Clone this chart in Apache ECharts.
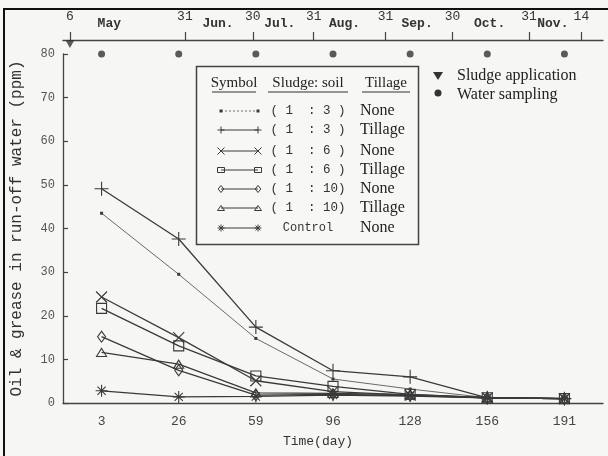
<!DOCTYPE html>
<html><head><meta charset="utf-8">
<script src="https://cdn.jsdelivr.net/npm/echarts@6/dist/echarts.min.js"></script>
<style>html,body{margin:0;padding:0;background:#f6f6f4}#c{width:608px;height:456px}</style>
</head><body><div id="c"></div>
<script>
// ---- data ----
const days = ['3','26','59','96','128','156','191'];
const none13  = [43.5, 29.5, 14.8, 5.5, 3.2, 1.2, 1.0];
const till13  = [49.1, 37.6, 17.4, 7.4, 6.0, 1.2, 1.0];
const none16  = [24.3, 15.0, 5.1, 2.6, 1.8, 1.2, 1.0];
const till16  = [21.7, 13.1, 6.2, 3.8, 2.0, 1.2, 1.0];
const none110 = [15.2, 7.5, 1.8, 2.0, 1.7, 1.2, 1.0];
const till110 = [11.6, 8.9, 2.3, 2.2, 1.9, 1.2, 1.0];
const control = [2.8, 1.4, 1.5, 1.8, 1.6, 1.2, 1.0];
const samplingMarks = [80, 80, 80, 80, 80, 80, 80];
const yMin = 0, yMax = 80, yStep = 10;
const dateTickLabels = ['6','31','30','31','31','30','31','14'];
const monthLabels = ['May','Jun.','Jul.','Aug.','Sep.','Oct.','Nov.'];
const ratioLabels = ['( 1  : 3 )','( 1  : 3 )','( 1  : 6 )','( 1  : 6 )','( 1  : 10)','( 1  : 10)','Control'];
const tillageLabels = ['None','Tillage','None','Tillage','None','Tillage','None'];
const headerLabels = ['Symbol','Sludge: soil','Tillage'];
const eventLabels = ['Sludge application','Water sampling'];
const yTitle = 'Oil & grease in run-off water (ppm)';
const xTitle = 'Time(day)';
// top calendar axis positions (in sampling-interval units of the bottom axis)
const datePos = [0.09, 1.58, 2.46, 3.25, 4.18, 5.05, 6.04, 6.72];
const monthPos = [0.6, 2.01, 2.81, 3.65, 4.59, 5.53, 6.35];
const sludgeApplicationPos = [[0.09, 0.5]];

// ---- styling ----
const INK = '#3a3a3a';
const MONO = 'Liberation Mono';
const SYM = {
  dot: 'rect',
  plus: 'path://M5,0L5,10M0,5L10,5',
  cross: 'path://M0,0L10,10M10,0L0,10',
  rect: 'rect',
  diamond: 'diamond',
  triangle: 'triangle',
  star: 'path://M5,0L5,10M0,5L10,5M1.6,1.6L8.4,8.4M8.4,1.6L1.6,8.4'
};
const seriesDefs = [
  {data: none13, kind: 'dot', size: 3, fill: INK, lw: 1, lc: '#6a6a6a'},
  {data: till13, kind: 'plus', size: 14, fill: 'none', lw: 1.3, lc: INK},
  {data: none16, kind: 'cross', size: 11, fill: 'none', lw: 1.3, lc: INK},
  {data: till16, kind: 'rect', size: 10, fill: 'none', lw: 1.3, lc: INK},
  {data: none110, kind: 'diamond', size: [8, 11], fill: 'none', lw: 1.3, lc: INK},
  {data: till110, kind: 'triangle', size: [10, 8], fill: 'none', lw: 1.3, lc: INK},
  {data: control, kind: 'star', size: 12, fill: 'none', lw: 1.3, lc: INK}
];

const lineSeries = seriesDefs.map((d, i) => ({
  name: ratioLabels[i] + ' ' + tillageLabels[i],
  type: 'line',
  xAxisIndex: 0, yAxisIndex: 0,
  data: d.data,
  symbol: SYM[d.kind],
  symbolSize: d.size,
  showAllSymbol: true,
  itemStyle: {color: d.fill, borderColor: INK, borderWidth: d.kind === 'dot' ? 0 : 1.1},
  lineStyle: {color: d.lc, width: d.lw},
  emphasis: {disabled: true},
  z: 3
}));

function nearestLabel(v, pos, labels) {
  let bi = 0, bd = Infinity;
  pos.forEach((p, i) => { const dd = Math.abs(p - v); if (dd < bd) { bd = dd; bi = i; } });
  return labels[bi];
}

// ---- legend graphics ----
function marker(kind, cx, cy, s) {
  const h = s / 2;
  const st = {stroke: INK, lineWidth: 1, fill: 'none'};
  const L = (x1, y1, x2, y2) => ({type: 'line', shape: {x1, y1, x2, y2}, style: st});
  switch (kind) {
    case 'dot': return [{type: 'rect', shape: {x: cx - 1.5, y: cy - 1.5, width: 3, height: 3}, style: {fill: INK}}];
    case 'plus': return [L(cx - h, cy, cx + h, cy), L(cx, cy - h, cx, cy + h)];
    case 'cross': return [L(cx - h, cy - h, cx + h, cy + h), L(cx + h, cy - h, cx - h, cy + h)];
    case 'rect': return [{type: 'rect', shape: {x: cx - h, y: cy - h + 1, width: s, height: s - 2}, style: st}];
    case 'diamond': return [{type: 'polygon', shape: {points: [[cx, cy - h], [cx + h * 0.8, cy], [cx, cy + h], [cx - h * 0.8, cy]]}, style: st}];
    case 'triangle': return [{type: 'polygon', shape: {points: [[cx, cy - h + 1], [cx + h, cy + h - 1], [cx - h, cy + h - 1]]}, style: st}];
    case 'star': {
      const k = h * 0.7;
      return [L(cx - h, cy, cx + h, cy), L(cx, cy - h, cx, cy + h), L(cx - k, cy - k, cx + k, cy + k), L(cx + k, cy - k, cx - k, cy + k)];
    }
  }
  return [];
}

const graphics = [];
// frame
graphics.push({type: 'line', shape: {x1: 3, y1: 9, x2: 608, y2: 9}, style: {stroke: '#111', lineWidth: 2}, z: 10});
graphics.push({type: 'line', shape: {x1: 4, y1: 9, x2: 4, y2: 456}, style: {stroke: '#111', lineWidth: 2}, z: 10});
// legend box
graphics.push({type: 'rect', shape: {x: 196.5, y: 66.5, width: 222, height: 178}, style: {fill: '#f7f7f5', stroke: '#444', lineWidth: 1.5}, z: 5});
const headerX = [234, 308, 386];
headerLabels.forEach((t, i) => {
  graphics.push({type: 'text', x: headerX[i], y: 83, style: {text: t, font: '15px "Liberation Serif"', fill: '#222', align: 'center', verticalAlign: 'middle'}, z: 6});
});
[[212, 256], [268, 348], [362, 410]].forEach(([a, b]) => {
  graphics.push({type: 'line', shape: {x1: a, y1: 92, x2: b, y2: 92}, style: {stroke: '#333', lineWidth: 1}, z: 6});
});
const rowY = [111, 130, 151, 170, 189, 208, 228];
seriesDefs.forEach((d, i) => {
  const y = rowY[i];
  graphics.push({type: 'line', shape: {x1: 221, y1: y, x2: 258, y2: y},
    style: {stroke: d.lc, lineWidth: 1, lineDash: d.kind === 'dot' ? [2, 2] : null}, z: 6});
  marker(d.kind, 221, y, 7).concat(marker(d.kind, 258, y, 7)).forEach(g => { g.z = 7; graphics.push(g); });
  graphics.push({type: 'text', x: 308, y: y, style: {text: ratioLabels[i], font: (i === 6 ? '12px ' : '12.5px ') + MONO, fill: '#333', align: 'center', verticalAlign: 'middle'}, z: 6});
  graphics.push({type: 'text', x: 360, y: y, style: {text: tillageLabels[i], font: '16px "Liberation Serif"', fill: '#222', align: 'left', verticalAlign: 'middle'}, z: 6});
});
// event legend
graphics.push({type: 'polygon', shape: {points: [[433, 72], [443, 72], [438, 80]]}, style: {fill: '#333'}, z: 6});
graphics.push({type: 'circle', shape: {cx: 438, cy: 93, r: 3.5}, style: {fill: '#333'}, z: 6});
graphics.push({type: 'text', x: 457, y: 76, style: {text: eventLabels[0], font: '16px "Liberation Serif"', fill: '#222', verticalAlign: 'middle'}, z: 6});
graphics.push({type: 'text', x: 457, y: 95, style: {text: eventLabels[1], font: '16px "Liberation Serif"', fill: '#222', verticalAlign: 'middle'}, z: 6});

const axisColor = '#444';
const option = {
  backgroundColor: '#f6f6f4',
  animation: false,
  grid: [
    {left: 63, top: 54, width: 540, height: 349, containLabel: false},
    {left: 63, top: 40, width: 540, height: 8, containLabel: false}
  ],
  xAxis: [
    {
      type: 'category', gridIndex: 0, data: days, boundaryGap: true,
      axisLine: {lineStyle: {color: axisColor, width: 1.3}},
      axisTick: {alignWithLabel: true, length: 8, lineStyle: {color: axisColor, width: 1.2}},
      axisLabel: {margin: 12, color: '#444', fontFamily: MONO, fontSize: 13},
      splitLine: {show: false},
      name: xTitle, nameLocation: 'middle', nameGap: 32,
      nameTextStyle: {fontFamily: MONO, fontSize: 13, color: '#333', padding: [0, 30, 0, 0]}
    },
    {
      type: 'value', gridIndex: 1, position: 'top', min: 0, max: 7,
      axisLine: {show: true, onZero: false, lineStyle: {color: axisColor, width: 1.3}},
      axisTick: {show: true, customValues: datePos, length: 8, lineStyle: {color: axisColor, width: 1.2}},
      axisLabel: {customValues: datePos, formatter: v => nearestLabel(v, datePos, dateTickLabels), margin: 17, color: '#333', fontFamily: MONO, fontSize: 13},
      splitLine: {show: false}
    },
    {
      type: 'value', gridIndex: 1, position: 'top', offset: 0, min: 0, max: 7,
      axisLine: {show: false, onZero: false}, axisTick: {show: false},
      axisLabel: {customValues: monthPos, formatter: v => nearestLabel(v, monthPos, monthLabels), margin: 10, color: '#333', fontFamily: MONO, fontSize: 13, fontWeight: 'bold'},
      splitLine: {show: false}
    }
  ],
  yAxis: [
    {
      type: 'value', gridIndex: 0, min: yMin, max: yMax, interval: yStep,
      axisLine: {show: true, lineStyle: {color: axisColor, width: 1.3}},
      axisTick: {show: true, inside: true, length: 5, lineStyle: {color: axisColor, width: 1.2}},
      axisLabel: {margin: 8, color: '#555', fontFamily: MONO, fontSize: 12},
      splitLine: {show: false},
      name: yTitle, nameLocation: 'middle', nameGap: 38,
      nameTextStyle: {fontFamily: MONO, fontSize: 16, color: '#333'}
    },
    {type: 'value', gridIndex: 1, min: 0, max: 1, show: false}
  ],
  series: lineSeries.concat([
    {
      name: eventLabels[1], type: 'scatter', xAxisIndex: 0, yAxisIndex: 0,
      data: samplingMarks, symbol: 'circle', symbolSize: 7, clip: false,
      itemStyle: {color: '#333'}, emphasis: {disabled: true}, z: 4
    },
    {
      name: eventLabels[0], type: 'scatter', xAxisIndex: 1, yAxisIndex: 1,
      data: sludgeApplicationPos, symbol: 'triangle', symbolRotate: 180, symbolSize: [9, 8], clip: false,
      itemStyle: {color: '#333'}, emphasis: {disabled: true}, z: 4
    }
  ]),
  graphic: graphics
};
const chart = echarts.init(document.getElementById('c'), null, {renderer: 'canvas'});
chart.setOption(option);
</script>
</body></html>
